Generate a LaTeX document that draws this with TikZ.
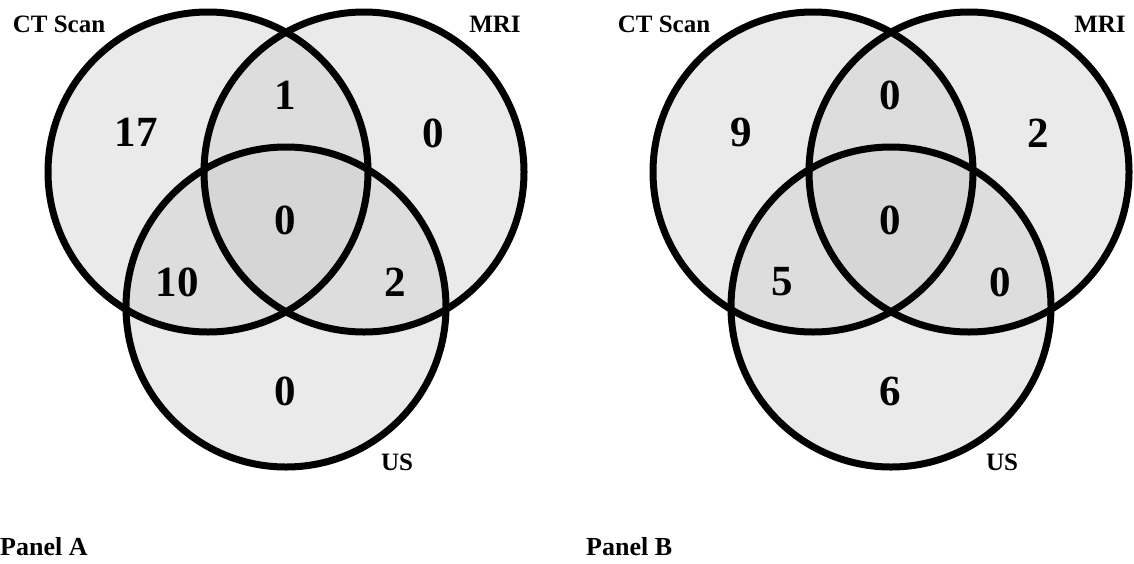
\documentclass[tikz,border=0pt]{standalone}
\usepackage{fontspec}
\setmainfont{Liberation Serif}
\definecolor{regionone}{gray}{0.918}
\definecolor{regiontwo}{gray}{0.866}
\definecolor{regionthree}{gray}{0.840}
\tikzset{
  setline/.style={line width=7pt, draw=black},
  countlbl/.style={inner sep=0pt, font=\fontsize{43}{43}\selectfont\bfseries},
  setlbl/.style={inner sep=0pt, anchor=base, font=\fontsize{25}{25}\selectfont\bfseries},
  panellbl/.style={inner sep=0pt, anchor=base west, font=\fontsize{26}{26}\selectfont\bfseries},
}
% #1 prefix, #2 CT only, #3 CT&MRI, #4 MRI only, #5 all three,
% #6 CT&US, #7 MRI&US, #8 US only
\newcommand\vennpanel[8]{%
  \coordinate (#1ct) at (208,172);
  \coordinate (#1mr) at (364,172);
  \coordinate (#1us) at (286,307);
  % single-set shading
  \fill[regionone] (#1ct) circle[radius=160pt];
  \fill[regionone] (#1mr) circle[radius=160pt];
  \fill[regionone] (#1us) circle[radius=160pt];
  % pairwise and triple overlaps
  \begin{scope}
    \clip (#1ct) circle[radius=160pt];
    \fill[regiontwo] (#1mr) circle[radius=160pt];
    \fill[regiontwo] (#1us) circle[radius=160pt];
    \clip (#1mr) circle[radius=160pt];
    \fill[regionthree] (#1us) circle[radius=160pt];
  \end{scope}
  \begin{scope}
    \clip (#1mr) circle[radius=160pt];
    \fill[regiontwo] (#1us) circle[radius=160pt];
    \clip (#1ct) circle[radius=160pt];
    \fill[regionthree] (#1us) circle[radius=160pt];
  \end{scope}
  % outlines
  \draw[setline] (#1ct) circle[radius=160pt];
  \draw[setline] (#1mr) circle[radius=160pt];
  \draw[setline] (#1us) circle[radius=160pt];
  % set names
  \node[setlbl] (#1ctname) at (59,32) {CT Scan};
  \node[setlbl] (#1mrname) at (495,32) {MRI};
  \node[setlbl] (#1usname) at (397,470) {US};
  % counts
  \node[countlbl] (#1nct) at (136,132) {#2};
  \node[countlbl] (#1nctmr) at (285,95) {#3};
  \node[countlbl] (#1nmr) at (433,133) {#4};
  \node[countlbl] (#1nall) at (285,220) {#5};
  \node[countlbl] (#1nctus) at (177,282) {#6};
  \node[countlbl] (#1nmrus) at (395,282) {#7};
  \node[countlbl] (#1nus) at (285,391) {#8};
}
\begin{document}
\begin{tikzpicture}[x=1pt, y=-1pt]
  \fill[white] (0,0) rectangle (1134,563);
  \useasboundingbox (0,0) rectangle (1134,563);
  \begin{scope}
    \vennpanel{a}{17}{1}{0}{0}{10}{2}{0}
  \end{scope}
  \begin{scope}[xshift=605pt]
    \vennpanel{b}{9}{0}{2}{0}{5}{0}{6}
  \end{scope}
  \node[panellbl] (panela) at (0,555) {Panel A};
  \node[panellbl] (panelb) at (586,555) {Panel B};
\end{tikzpicture}
\end{document}
